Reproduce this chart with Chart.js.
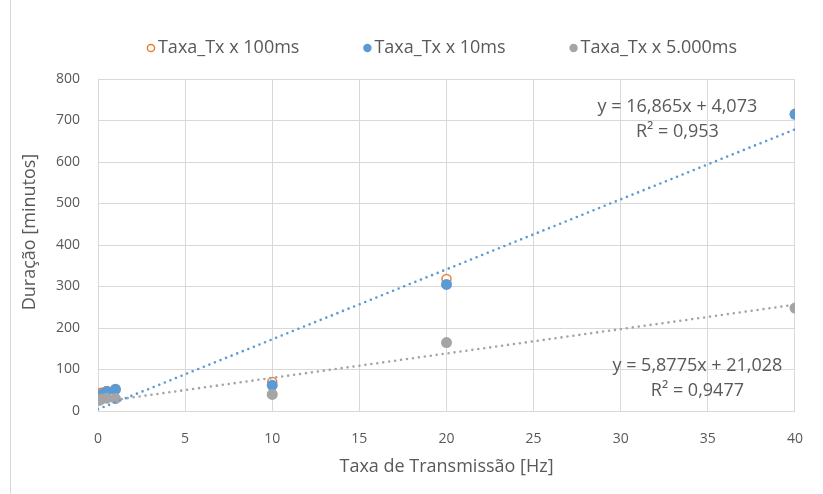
<!DOCTYPE html>
<html>
<head>
<meta charset="utf-8">
<script src="https://cdn.jsdelivr.net/npm/chart.js@4.4.1/dist/chart.umd.min.js"></script>
<style>
  html, body { margin: 0; padding: 0; background: #ffffff; }
  #wrap { position: relative; width: 823px; height: 494px; }
</style>
</head>
<body>
<div id="wrap"><canvas id="c" width="823" height="494"></canvas></div>
<script>
// Transmission rate (Hz) and measured duration (minutes) for each acquisition interval
const freqHz     = [0.1, 0.2, 0.5, 1, 10, 20, 40];
const dur100ms   = [40, 44, 48, 53, 70, 318, 716];
const dur10ms    = [36, 40, 47, 52, 62, 305, 715];
const dur5000ms  = [26, 29, 31, 30, 40, 165, 248];

const seriesNames = ['Taxa_Tx x 100ms', 'Taxa_Tx x 10ms', 'Taxa_Tx x 5.000ms'];

// Linear trend lines (10ms and 5.000ms series)
const trendSlope     = [16.865, 5.8775];
const trendIntercept = [4.073, 21.028];
const trendR2        = [0.953, 0.9477];

const xTicks = { min: 0, max: 40, step: 5 };
const yTicks = { min: 0, max: 800, step: 100 };

const xTitle = 'Taxa de Transmissão [Hz]';
const yTitle = 'Duração [minutos]';

const ORANGE = '#ed7d31', BLUE = '#5b9bd5', GRAY = '#a5a5a5';
const TEXT = '#595959', GRID = '#d9d9d9';
const FONT = '"Open Sans", "DejaVu Sans", sans-serif';

const toPoints = (xs, ys) => xs.map((x, i) => ({ x, y: ys[i] }));
const trendPoints = (k) => [xTicks.min, xTicks.max].map(x => ({ x, y: trendSlope[k] * x + trendIntercept[k] }));
const fmt = (v) => String(v).replace('.', ',');

// Equation labels anchored in data space
const trendLabelAt = [
  { x: 33.25, y: 733 },
  { x: 34.4, y: 108 }
];

const frameAndLabels = {
  id: 'frameAndLabels',
  beforeDraw(chart) {
    const ctx = chart.ctx;
    ctx.save();
    ctx.fillStyle = '#ffffff';
    ctx.fillRect(0, 0, chart.width, chart.height);
    ctx.strokeStyle = GRID;
    ctx.lineWidth = 1;
    ctx.beginPath();
    ctx.moveTo(10.5, 0);
    ctx.lineTo(10.5, chart.height);
    ctx.stroke();
    ctx.restore();
  },
  afterDraw(chart) {
    const ctx = chart.ctx;
    const xs = chart.scales.x, ys = chart.scales.y;
    const area = chart.chartArea;
    ctx.save();

    // axis titles
    ctx.font = '18px ' + FONT;
    ctx.fillStyle = TEXT;
    ctx.textAlign = 'center';
    ctx.textBaseline = 'middle';
    ctx.fillText(xTitle, (area.left + area.right) / 2, 467);
    ctx.save();
    ctx.translate(30, 232);
    ctx.rotate(-Math.PI / 2);
    ctx.fillText(yTitle, 0, 0);
    ctx.restore();

    // trend equations
    trendLabelAt.forEach((p, k) => {
      const px = xs.getPixelForValue(p.x);
      const py = ys.getPixelForValue(p.y);
      ctx.fillText('y = ' + fmt(trendSlope[k]) + 'x + ' + fmt(trendIntercept[k]), px, py);
      ctx.fillText('R\u00b2 = ' + fmt(trendR2[k]), px, py + 25);
    });

    // legend
    const colors = [ORANGE, BLUE, GRAY];
    const hollow = [true, false, false];
    ctx.textAlign = 'left';
    const markW = 11, gap = 64;
    const widths = seriesNames.map(n => markW + ctx.measureText(n).width);
    const total = widths.reduce((a, b) => a + b, 0) + gap * (seriesNames.length - 1);
    let x = 442 - total / 2;
    const ly = 48;
    seriesNames.forEach((n, i) => {
      ctx.beginPath();
      ctx.arc(x + 4, ly, hollow[i] ? 3.6 : 4.2, 0, Math.PI * 2);
      if (hollow[i]) {
        ctx.fillStyle = '#ffffff';
        ctx.fill();
        ctx.lineWidth = 1.5;
        ctx.strokeStyle = colors[i];
        ctx.stroke();
      } else {
        ctx.fillStyle = colors[i];
        ctx.fill();
      }
      ctx.fillStyle = TEXT;
      ctx.fillText(n, x + markW, ly);
      x += widths[i] + gap;
    });
    ctx.restore();
  }
};

const dotted = { borderDash: [0, 6], borderCapStyle: 'round', borderWidth: 2.6, pointRadius: 0, fill: false, tension: 0 };

new Chart(document.getElementById('c'), {
  type: 'scatter',
  data: {
    datasets: [
      { label: seriesNames[0], data: toPoints(freqHz, dur100ms), order: 4,
        pointRadius: 4.5, pointBorderWidth: 1.5, pointBackgroundColor: '#ffffff', pointBorderColor: ORANGE },
      { label: seriesNames[1], data: toPoints(freqHz, dur10ms), order: 3,
        pointRadius: 5.5, pointBorderWidth: 0, pointBackgroundColor: BLUE, pointBorderColor: BLUE },
      { label: seriesNames[2], data: toPoints(freqHz, dur5000ms), order: 2,
        pointRadius: 5.5, pointBorderWidth: 0, pointBackgroundColor: GRAY, pointBorderColor: GRAY },
      Object.assign({ type: 'line', label: 'trend10', data: trendPoints(0), borderColor: BLUE, order: 1 }, dotted),
      Object.assign({ type: 'line', label: 'trend5000', data: trendPoints(1), borderColor: GRAY, order: 0 }, dotted)
    ]
  },
  options: {
    responsive: false,
    animation: false,
    devicePixelRatio: 1,
    layout: { padding: { top: 79, right: 28, bottom: 0, left: 0 } },
    plugins: { legend: { display: false }, tooltip: { enabled: false } },
    scales: {
      x: {
        type: 'linear', min: xTicks.min, max: xTicks.max,
        ticks: { stepSize: xTicks.step, color: TEXT, font: { family: FONT, size: 14 }, padding: 20 },
        grid: { color: GRID, drawTicks: false },
        border: { color: GRID },
        afterFit(s) { s.height = 494 - 411; }
      },
      y: {
        type: 'linear', min: yTicks.min, max: yTicks.max,
        ticks: { stepSize: yTicks.step, color: TEXT, font: { family: FONT, size: 14 }, padding: 18 },
        grid: { color: GRID, drawTicks: false },
        border: { color: GRID },
        afterFit(s) { s.width = 98; }
      }
    }
  },
  plugins: [frameAndLabels]
});
</script>
</body>
</html>
